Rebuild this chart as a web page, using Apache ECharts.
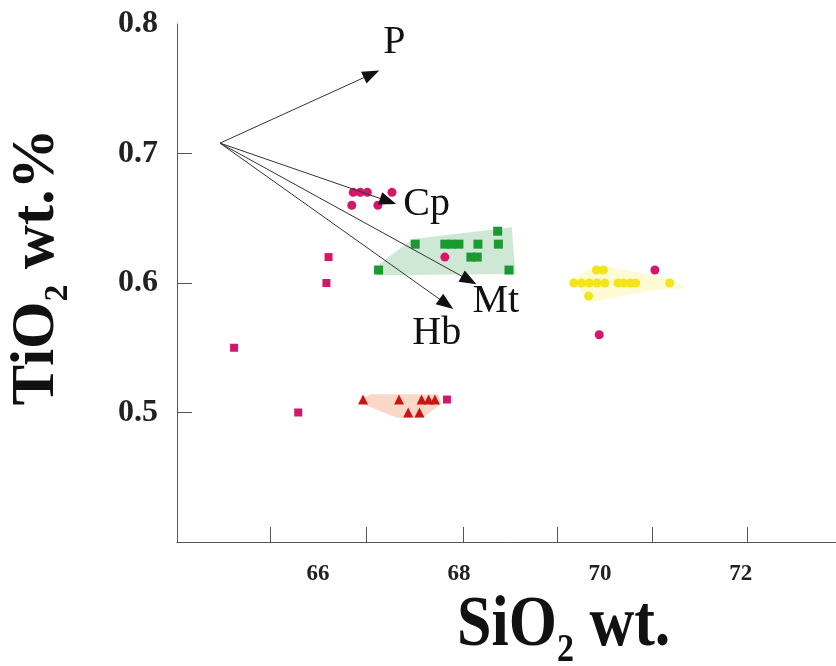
<!DOCTYPE html>
<html>
<head>
<meta charset="utf-8">
<script src="https://cdn.jsdelivr.net/npm/echarts@6/dist/echarts.min.js"></script>
<style>
  html, body { margin: 0; padding: 0; background: #fff; }
  #chart { width: 836px; height: 666px; }
</style>
</head>
<body>
<div id="chart"></div>
<script>
// Axis tick positions and labels
const xLabelValues = [66, 68, 70, 72];
const xTickValues = [65.33, 66.68, 68.06, 69.39, 70.74, 72.09];
const yLabelValues = [0.5, 0.6, 0.7, 0.8];
const yTickValues = [0.5, 0.6, 0.7];

// Sample groups: [SiO2, TiO2]
const pinkSquares = [[66.15, 0.62], [66.12, 0.60], [64.81, 0.55], [65.72, 0.50], [67.83, 0.51]];
const pinkCircles = [[66.50, 0.67], [66.60, 0.67], [66.70, 0.67], [67.05, 0.67], [66.48, 0.66], [66.85, 0.66],
                     [67.80, 0.62], [70.78, 0.61], [69.99, 0.56]];
const greenSquares = [[68.55, 0.64], [67.38, 0.63], [67.80, 0.63], [67.90, 0.63], [68.00, 0.63], [68.27, 0.63],
                      [68.56, 0.63], [68.17, 0.62], [68.26, 0.62], [66.86, 0.61], [68.71, 0.61]];
const redTriangles = [[66.64, 0.51], [67.15, 0.51], [67.47, 0.51], [67.57, 0.51], [67.66, 0.51], [67.28, 0.50], [67.44, 0.50]];
const yellowCircles = [[69.95, 0.61], [70.05, 0.61], [69.63, 0.60], [69.74, 0.60], [69.85, 0.60], [69.96, 0.60],
                       [70.07, 0.60], [70.26, 0.60], [70.34, 0.60], [70.43, 0.60], [70.51, 0.60], [70.99, 0.60], [69.84, 0.59]];

// Field outlines around the groups
const greenHull = [[66.78, 0.611], [67.35, 0.634], [68.75, 0.643], [68.80, 0.607], [66.85, 0.606]];
const redHull = [[66.57, 0.508], [66.74, 0.514], [67.71, 0.514], [67.75, 0.507], [67.49, 0.496], [67.12, 0.496]];
const yellowHull = [[69.60, 0.603], [69.98, 0.614], [70.57, 0.608], [71.02, 0.603], [71.23, 0.596], [70.71, 0.594], [69.86, 0.585]];

// Fractionation vectors from a common origin
const vectorOrigin = [64.61, 0.708];
const vectorNames = ['P', 'Cp', 'Mt', 'Hb'];
const vectorTips = [[66.87, 0.764], [67.11, 0.661], [68.25, 0.599], [67.92, 0.580]];

// Pixel offsets of each vector label from its arrow tip
const labelOffsets = { P: [4, -28], Cp: [7, 0], Mt: [-4, 17], Hb: [-41, 25] };

const serif = "'Liberation Serif', 'Times New Roman', serif";

function hullSeries(points, fill) {
  return {
    type: 'custom',
    data: points,
    z: 1,
    silent: true,
    clip: false,
    renderItem: function (params, api) {
      if (params.dataIndex !== 0) return null;
      return {
        type: 'polygon',
        shape: { points: points.map(p => api.coord(p)) },
        style: { fill: fill, stroke: 'none' }
      };
    }
  };
}

function scatterSeries(data, symbol, size, color) {
  return {
    type: 'scatter',
    data: data,
    symbol: symbol,
    symbolSize: size,
    itemStyle: { color: color, opacity: 1 },
    z: 3,
    silent: true
  };
}

const vectorData = vectorTips.map(t => [vectorOrigin[0], vectorOrigin[1], t[0], t[1]]);

const chart = echarts.init(document.getElementById('chart'), null, { renderer: 'canvas' });

chart.setOption({
  backgroundColor: '#ffffff',
  animation: false,
  grid: { left: 177, top: 24, right: 0, height: 518, containLabel: false },
  xAxis: {
    type: 'value',
    min: 64,
    max: 73.35,
    axisLine: { show: true, lineStyle: { color: '#555', width: 1 } },
    axisTick: { show: true, inside: true, length: 15, customValues: xTickValues, lineStyle: { color: '#555', width: 1 } },
    axisLabel: {
      customValues: xLabelValues,
      margin: 21,
      color: '#222',
      fontFamily: serif,
      fontWeight: 'bold',
      fontSize: 23
    },
    splitLine: { show: false }
  },
  yAxis: {
    type: 'value',
    min: 0.4,
    max: 0.8,
    axisLine: { show: true, lineStyle: { color: '#555', width: 1 } },
    axisTick: { show: true, inside: true, length: 15, customValues: yTickValues, lineStyle: { color: '#555', width: 1 } },
    axisLabel: {
      customValues: yLabelValues,
      margin: 19,
      color: '#222',
      fontFamily: serif,
      fontWeight: 'bold',
      fontSize: 32,
      formatter: v => v.toFixed(1)
    },
    splitLine: { show: false }
  },
  graphic: [
    {
      type: 'text',
      x: 37,
      y: 267,
      rotation: Math.PI / 2,
      style: {
        text: '{m|TiO}{s|2}{m| wt.%}',
        align: 'center',
        verticalAlign: 'middle',
        fill: '#111',
        rich: {
          m: { fontFamily: serif, fontWeight: 'bold', fontSize: 61, lineHeight: 76, verticalAlign: 'middle', fill: '#111' },
          s: { fontFamily: serif, fontWeight: 'bold', fontSize: 34, lineHeight: 76, verticalAlign: 'bottom', fill: '#111' }
        }
      }
    },
    {
      type: 'text',
      x: 457,
      y: 627,
      scaleY: 1.15,
      style: {
        text: '{m|SiO}{s|2}{m| wt.}',
        align: 'left',
        verticalAlign: 'middle',
        fill: '#111',
        rich: {
          m: { fontFamily: serif, fontWeight: 'bold', fontSize: 62, lineHeight: 76, verticalAlign: 'middle', fill: '#111' },
          s: { fontFamily: serif, fontWeight: 'bold', fontSize: 34, lineHeight: 76, verticalAlign: 'bottom', fill: '#111' }
        }
      }
    }
  ],
  series: [
    hullSeries(greenHull, '#cfe8d5'),
    hullSeries(redHull, '#fad8c8'),
    hullSeries(yellowHull, '#fefbd4'),
    scatterSeries(greenSquares, 'rect', 9, '#1b9a31'),
    scatterSeries(redTriangles, 'triangle', 10, '#cc1414'),
    scatterSeries(yellowCircles, 'circle', 9, '#f3e41c'),
    scatterSeries(pinkSquares, 'rect', 8, '#d6166b'),
    scatterSeries(pinkCircles, 'circle', 9, '#d6166b'),
    {
      type: 'custom',
      data: vectorData,
      z: 5,
      silent: true,
      clip: false,
      renderItem: function (params, api) {
        const p0 = api.coord([api.value(0), api.value(1)]);
        const p1 = api.coord([api.value(2), api.value(3)]);
        const dx = p1[0] - p0[0], dy = p1[1] - p0[1];
        const len = Math.sqrt(dx * dx + dy * dy);
        const ux = dx / len, uy = dy / len;
        const headLen = 17, headHalf = 6.5;
        const bx = p1[0] - ux * headLen, by = p1[1] - uy * headLen;
        const name = vectorNames[params.dataIndex];
        const off = labelOffsets[name];
        return {
          type: 'group',
          children: [
            {
              type: 'line',
              shape: { x1: p0[0], y1: p0[1], x2: bx + ux * 2, y2: by + uy * 2 },
              style: { stroke: '#333', lineWidth: 1 }
            },
            {
              type: 'polygon',
              shape: { points: [p1, [bx - uy * headHalf, by + ux * headHalf], [bx + uy * headHalf, by - ux * headHalf]] },
              style: { fill: '#111' }
            },
            {
              type: 'text',
              x: p1[0] + off[0],
              y: p1[1] + off[1],
              style: {
                text: name,
                fontFamily: serif,
                fontSize: 40,
                fill: '#111',
                align: 'left',
                verticalAlign: 'middle'
              }
            }
          ]
        };
      }
    }
  ]
});
</script>
</body>
</html>
